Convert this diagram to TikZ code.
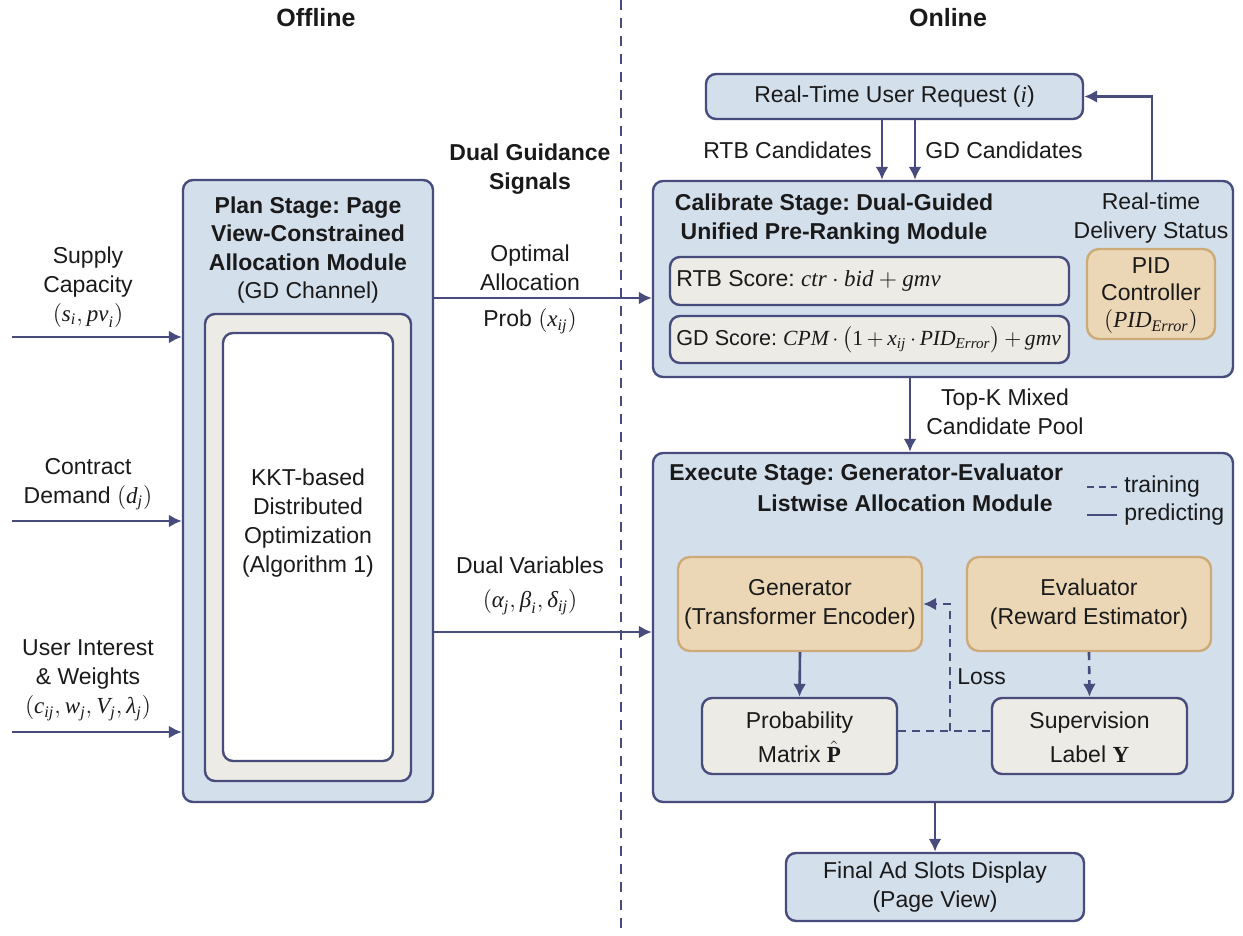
\documentclass[tikz,border=0pt]{standalone}
\usepackage{amsmath}
\usepackage{fontspec}
\setmainfont{Liberation Sans}
\newfontfamily\mserif{Liberation Serif}
\newcommand\mvar[1]{\text{\mserif\itshape #1}}
\newcommand\mup[1]{\text{\mserif #1}}
\newcommand\mbold[1]{\text{\mserif\bfseries #1}}
\usetikzlibrary{arrows.meta,fit}
\definecolor{bluefill}{HTML}{D4DFEC}
\definecolor{navy}{HTML}{474C7D}
\definecolor{grayfill}{HTML}{ECEBE6}
\definecolor{tanfill}{HTML}{EBD7B6}
\definecolor{tandraw}{HTML}{CDAB79}
\definecolor{txt}{HTML}{1A1A1A}
\frenchspacing
\begin{document}
\begin{tikzpicture}[x=0.5pt,y=-0.5pt,
  every node/.style={font=\fontsize{11.5}{14.5}\selectfont, text=txt},
  frame/.style={draw=navy, line width=1.2pt, rounded corners=5pt, inner sep=0pt, fill=bluefill},
  grayframe/.style={frame, fill=grayfill},
  whiteframe/.style={frame, fill=white},
  tanframe/.style={draw=tandraw, line width=1.2pt, rounded corners=6pt, inner sep=0pt, fill=tanfill},
  arr/.style={draw=navy, line width=1.3pt, -{Latex[length=6.5pt,width=6.5pt]}},
  dasharr/.style={arr, dash pattern=on 4pt off 3pt},
  dashline/.style={draw=navy, line width=1.3pt, dash pattern=on 4pt off 3pt},
  ttl/.style={font=\fontsize{12.5}{15}\selectfont\bfseries},
  bold/.style={font=\fontsize{11.5}{14.5}\selectfont\bfseries},
  lbl/.style={align=center, inner sep=0pt}
]
\useasboundingbox[fill=white] (0,0) rectangle (1243,936);

% divider
\coordinate (dtop) at (621,0);
\coordinate (dbot) at (621,936);
\draw[draw=navy, line width=1pt, dash pattern=on 5pt off 4pt] (dtop) -- (dbot);

% headings
\node[ttl] (offline) at (316,18) {Offline};
\node[ttl] (online) at (948,18) {Online};
\node[bold, lbl] (dgs) at (530,169) {Dual Guidance\\Signals};

% Plan stage
\node[frame, fit={(183,180) (433,802)}] (plan) {};
\node[grayframe, fit={(205,314) (411,781)}] (planin) {};
\node[whiteframe, fit={(223,333) (393,761)}] (kkt) {};
\node[lbl] (plantitle) at (308,250) {\textbf{Plan Stage: Page}\\[-0.3pt]\textbf{View-Constrained}\\[-0.3pt]\textbf{Allocation Module}\\[-0.3pt](GD Channel)};
\node[lbl] (kkttext) at (308,523) {KKT-based\\Distributed\\Optimization\\(Algorithm 1)};

% Inputs
\node[lbl] (supl) at (88,287) {Supply\\Capacity\\$(\mvar{s}_{\mvar{i}}, \mvar{pv}_{\mvar{i}})$};
\node[lbl] (conl) at (88,484) {Contract\\Demand $(\mvar{d}_{\mvar{j}})$};
\node[lbl] (usrl) at (88,680) {User Interest\\\& Weights\\$(\mvar{c}_{\mvar{ij}}, \mvar{w}_{\mvar{j}}, \mvar{V}_{\mvar{j}}, \mvar{λ}_{\mvar{j}})$};
\coordinate (in1) at (12,337);
\coordinate (in2) at (12,521);
\coordinate (in3) at (12,732);
\draw[arr] (in1) -- (in1 -| plan.west);
\draw[arr] (in2) -- (in2 -| plan.west);
\draw[arr] (in3) -- (in3 -| plan.west);

% Request
\node[frame, fit={(706,74) (1083,119)}] (req) {};
\node (reqt) at (req.center) {Real-Time User Request ($\mvar{i}$)};

% Calibrate
\node[frame, fit={(653,181) (1233,377)}] (calib) {};
\node[bold, lbl] (calibt) at (834,219) {Calibrate Stage: Dual-Guided\\Unified Pre-Ranking Module};
\node[lbl] (rtds) at (1151,218) {Real-time\\Delivery Status};
\node[grayframe, fit={(670,257) (1069,305)}] (rtb) {};
\node[grayframe, fit={(670,316) (1069,363)}] (gd) {};
\node[anchor=west, inner sep=0pt] (rtbt) at (676,281) {RTB Score: $\mvar{ctr}\cdot \mvar{bid}+\mvar{gmv}$};
\node[anchor=west, inner sep=0pt, font=\fontsize{10.8}{13}\selectfont] (gdt) at (676,340) {GD Score: \medmuskip=3mu$\mvar{CPM}\cdot\bigl(\mup{1}+\mvar{x}_{\mvar{ij}}\cdot \mvar{PID}_{\mvar{Error}}\bigr)+\mvar{gmv}$};
\node[tanframe, fit={(1087,249) (1215,339)}] (pid) {};
\node[lbl, font=\fontsize{11.5}{13.5}\selectfont] (pidt) at (1151,296) {PID\\Controller\\$(\mvar{PID}_{\mvar{Error}})$};

% request <-> calibrate
\coordinate (c1) at (882,150);
\coordinate (c2) at (915,150);
\coordinate (fb) at (1152,150);
\draw[arr] (req.south -| c1) -- (calib.north -| c1);
\draw[arr] (req.south -| c2) -- (calib.north -| c2);
\node[anchor=east, inner sep=0pt] (rtbc) at (872,150) {RTB Candidates};
\node[anchor=west, inner sep=0pt] (gdc) at (925,150) {GD Candidates};
\draw[arr] (calib.north -| fb) |- (req.east);

% Offline -> Online signals
\node[lbl] (oal) at (530,268) {Optimal\\Allocation};
\node[lbl] (prob) at (530,321) {Prob $(\mvar{x}_{\mvar{ij}})$};
\coordinate (m1) at (530,298);
\draw[arr] (m1 -| plan.east) -- (m1 -| calib.west);
\node[lbl] (dvl) at (530,565) {Dual Variables};
\node[lbl] (dvm) at (530,602) {$(\mvar{α}_{\mvar{j}}, \mvar{β}_{\mvar{i}}, \mvar{δ}_{\mvar{ij}})$};
\coordinate (m2) at (530,632);

% Execute
\node[frame, fit={(653,453) (1233,802)}] (exec) {};
\draw[arr] (m2 -| plan.east) -- (m2 -| exec.west);
\node[bold, anchor=west, inner sep=0pt] (exect1) at (669,475) {Execute Stage: Generator-Evaluator};
\node[bold, anchor=east, inner sep=0pt] (exect2) at (1053,503) {Listwise Allocation Module};
\coordinate (lg1a) at (1087,487);
\coordinate (lg1b) at (1117,487);
\coordinate (lg2a) at (1087,515);
\coordinate (lg2b) at (1117,515);
\draw[draw=navy, line width=1pt, dash pattern=on 3.5pt off 2.5pt] (lg1a) -- (lg1b);
\draw[draw=navy, line width=1pt] (lg2a) -- (lg2b);
\node[anchor=west, inner sep=0pt] (lgt1) at (1124,487) {training};
\node[anchor=west, inner sep=0pt] (lgt2) at (1124,515) {predicting};

\node[tanframe, fit={(678,557) (922,651)}] (gen) {};
\node[lbl] (gent) at (gen.center) {Generator\\(Transformer Encoder)};
\node[tanframe, fit={(967,557) (1211,651)}] (eval) {};
\node[lbl] (evalt) at (eval.center) {Evaluator\\(Reward Estimator)};
\node[grayframe, fit={(702,698) (897,774)}] (pm) {};
\node[lbl] (pmt) at (799.5,737) {Probability\\[2.5pt]Matrix $\hat{\mbold{P}}$};
\node[grayframe, fit={(992,698) (1187,774)}] (sup) {};
\node[lbl] (supt) at (1089.5,737) {Supervision\\[2.5pt]Label $\mbold{Y}$};

\draw[arr] (gen.south) -- (pm.north);
\draw[dasharr] (eval.south) -- (sup.north);
\coordinate (lossx) at (950,731);
\draw[dashline] (pm.east |- lossx) -- (sup.west |- lossx);
\draw[dasharr] (lossx) |- (gen.east);
\node[anchor=west, inner sep=0pt] (loss) at (957,677) {Loss};

% calibrate -> execute
\coordinate (ce) at (910,420);
\draw[arr] (calib.south -| ce) -- (exec.north -| ce);
\node[lbl] (topk) at (1005,412) {Top-K Mixed\\Candidate Pool};

% final
\node[frame, fit={(786,853) (1084,921)}] (final) {};
\node[lbl] (finalt) at (final.center) {Final Ad Slots Display\\(Page View)};
\coordinate (fx) at (935,830);
\draw[arr] (exec.south -| fx) -- (final.north -| fx);
\end{tikzpicture}
\end{document}
